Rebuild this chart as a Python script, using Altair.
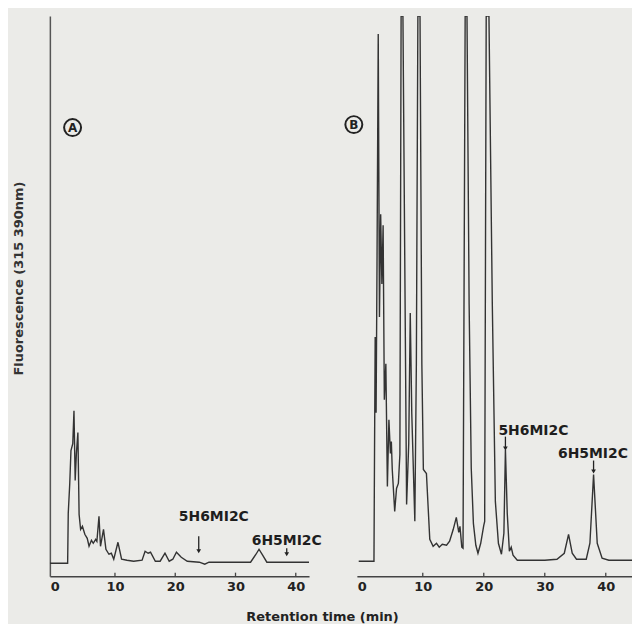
import altair as alt
import pandas as pd

# ---------------- data ----------------
# Panel A chromatogram: retention time (min) and fluorescence (arbitrary units)
a_time = [-0.8, 2.15, 2.25, 2.5, 2.7, 3.0, 3.2, 3.4, 3.6, 3.85, 4.05, 4.3, 4.6, 5.0,
          5.4, 5.7, 6.1, 6.4, 6.8, 7.0, 7.35, 7.6, 8.1, 8.5, 9.0, 9.4, 9.8, 10.5,
          11.1, 12.0, 13.1, 14.5, 15.0, 15.5, 15.9, 16.7, 17.5, 18.3, 19.0, 19.6,
          20.2, 21.0, 22.0, 24.0, 24.9, 25.6, 32.5, 33.4, 33.9, 34.5, 35.2, 42.2]
a_signal = [0.0, 0.0, 5.0, 8.0, 11.3, 12.0, 15.3, 8.3, 11.0, 13.1, 4.9, 3.4, 3.7, 2.9,
            2.5, 1.7, 2.3, 2.0, 2.4, 2.2, 4.7, 1.7, 3.4, 1.4, 0.9, 1.0, 0.4, 2.1,
            0.4, 0.3, 0.2, 0.3, 1.2, 1.0, 1.1, 0.2, 0.2, 1.0, 0.2, 0.4,
            1.1, 0.6, 0.2, 0.1, -0.1, 0.1, 0.1, 0.9, 1.4, 0.8, 0.1, 0.1]

# Panel B chromatogram
b_time = [-0.5, 2.0, 2.1, 2.2, 2.35, 2.5, 2.7, 2.9, 3.1, 3.3, 3.5, 3.7, 3.95, 4.2,
          4.45, 4.7, 4.85, 5.0, 5.4, 5.7, 6.0, 6.25, 6.45, 6.75, 7.35, 7.7, 7.95,
          8.2, 8.7, 8.95, 9.2, 9.55, 9.85, 10.1, 10.6, 11.15, 11.7, 12.25, 12.7,
          13.2, 13.9, 14.4, 15.0, 15.5, 15.9, 16.1, 16.4, 16.6, 16.95, 17.25, 17.6,
          17.95, 18.3, 18.7, 19.05, 19.5, 20.0, 20.15, 20.4, 20.85, 21.4, 21.9,
          22.4, 22.9, 23.3, 23.55, 23.85, 24.2, 24.5, 24.8, 25.5, 30.0, 32.0, 33.2,
          33.9, 34.5, 35.2, 36.8, 37.4, 38.0, 38.6, 39.4, 40.5, 44.3]
b_signal = [0.2, 0.2, 12.0, 22.7, 15.1, 30.0, 53.1, 24.7, 35.0, 28.0, 33.9, 16.4, 20.0, 7.7,
            14.4, 11.0, 12.2, 9.4, 5.2, 7.5, 8.0, 10.9, 54.9, 54.9, 5.9, 12.0, 25.1,
            15.0, 4.2, 20.0, 54.9, 54.9, 20.0, 9.4, 9.0, 2.4, 1.7, 2.0, 1.6,
            1.9, 1.8, 2.2, 3.4, 4.6, 3.1, 3.7, 1.6, 1.5, 54.9, 54.9, 26.0,
            9.5, 4.0, 1.8, 1.0, 2.0, 3.8, 4.2, 54.9, 54.9, 26.0, 6.2,
            2.0, 0.9, 3.0, 11.4, 5.0, 1.2, 1.6, 0.8, 0.3, 0.3, 0.4, 1.0,
            2.9, 1.0, 0.4, 0.4, 2.0, 8.9, 2.0, 0.5, 0.3, 0.3]

tick_labels = [0, 10, 20, 30, 40]
tick_marks = [10, 20, 30, 40]
peak_names = ["5H6MI2C", "6H5MI2C"]

# annotation anchors (data units)
a_label_t = [26.4, 38.5]
a_label_v = [4.2, 1.8]
a_arrow_t = [23.9, 38.5]
a_arrow_top = [2.7, 1.5]
a_arrow_bot = [1.2, 0.9]

b_label_t = [22.4, 37.9]
b_label_v = [12.9, 10.6]
b_label_align = ["left", "center"]
b_arrow_t = [23.55, 38.0]
b_arrow_top = [12.7, 10.3]
b_arrow_bot = [11.5, 9.2]

panel_letters = ["A", "B"]
letter_t = [2.97, -1.3]
letter_v = [43.7, 44.0]

Y_DOMAIN = [-1.3, 54.9]
LINE = "#333333"
BG = "#ebebe8"
FONT = "DejaVu Sans"


def panel(time, signal, xdom, width, lab_t, lab_v, aligns, arr_t, arr_top, arr_bot,
          letter, lt, lv, show_y):
    xenc = alt.X("t:Q", scale=alt.Scale(domain=xdom, nice=False, zero=False),
                 axis=alt.Axis(values=tick_labels, ticks=False, grid=False, title=None,
                               domainColor="#444", domainWidth=1.5, labelFont=FONT,
                               labelFontWeight="bold", labelFontSize=13, labelColor="#222",
                               labelPadding=4, labelFlush=False))
    if show_y:
        yaxis = alt.Axis(ticks=False, labels=False, grid=False,
                         title="Fluorescence (315 390nm)", titleFont=FONT,
                         titleFontWeight="bold", titleFontSize=13, titleColor="#333",
                         domainColor="#555", domainWidth=1.5, titlePadding=24,
                         titleY=263)
    else:
        yaxis = None
    yenc = alt.Y("v:Q", scale=alt.Scale(domain=Y_DOMAIN, nice=False, zero=False), axis=yaxis)

    curve = alt.Chart(pd.DataFrame({"t": time, "v": signal, "o": list(range(len(time)))})).mark_line(
        color=LINE, strokeWidth=1.4, clip=True).encode(x=xenc, y=yenc, order="o:Q")

    tdf = pd.DataFrame({"t": tick_marks, "v": [Y_DOMAIN[0]] * 4, "v2": [Y_DOMAIN[0] + 0.35] * 4})
    ticks = alt.Chart(tdf).mark_rule(color="#444", strokeWidth=1.3).encode(x=xenc, y=yenc, y2="v2:Q")

    adf = pd.DataFrame({"t": arr_t, "v": arr_top, "v2": arr_bot})
    arrows = alt.Chart(adf).mark_rule(color="#222", strokeWidth=1.3).encode(x=xenc, y=yenc, y2="v2:Q")
    hdf = pd.DataFrame({"t": arr_t, "v": arr_bot})
    heads = alt.Chart(hdf).mark_point(shape="triangle-down", filled=True, size=22,
                                      color="#222", opacity=1).encode(x=xenc, y=yenc)

    layers = [curve, ticks, arrows, heads]
    for name, t, v, al in zip(peak_names, lab_t, lab_v, aligns):
        ldf = pd.DataFrame({"t": [t], "v": [v], "name": [name]})
        layers.append(alt.Chart(ldf).mark_text(font=FONT, fontWeight="bold", fontSize=14,
                                               color="#1e1e1e", align=al, baseline="alphabetic").encode(
            x=xenc, y=yenc, text="name:N"))

    cdf = pd.DataFrame({"t": [lt], "v": [lv], "name": [letter]})
    layers.append(alt.Chart(cdf).mark_point(shape="circle", filled=False, size=290, color="#222",
                                            strokeWidth=2.0, opacity=1).encode(x=xenc, y=yenc))
    layers.append(alt.Chart(cdf).mark_text(font=FONT, fontWeight="bold", fontSize=12, color="#222",
                                           align="center", baseline="middle", dy=0.5).encode(
        x=xenc, y=yenc, text="name:N"))

    return alt.layer(*layers).properties(width=width, height=562)


pa = panel(a_time, a_signal, [-0.8, 42.2], 260, a_label_t, a_label_v, ["center", "center"],
           a_arrow_t, a_arrow_top, a_arrow_bot, panel_letters[0], letter_t[0], letter_v[0], True)
pb = panel(b_time, b_signal, [-0.8, 44.3], 276, b_label_t, b_label_v, b_label_align,
           b_arrow_t, b_arrow_top, b_arrow_bot, panel_letters[1], letter_t[1], letter_v[1], False)

chart = alt.hconcat(pa, pb, spacing=48, bounds="flush").properties(
    padding={"left": 5, "top": 7, "right": 0, "bottom": 0},
    title=alt.TitleParams("Retention time (min)", orient="bottom", anchor="middle",
                          font=FONT, fontWeight="bold", fontSize=13, color="#222", offset=18),
    background=BG,
).configure_view(stroke=None)

chart.save("out.html", embed_options={"renderer": "svg", "actions": False})
